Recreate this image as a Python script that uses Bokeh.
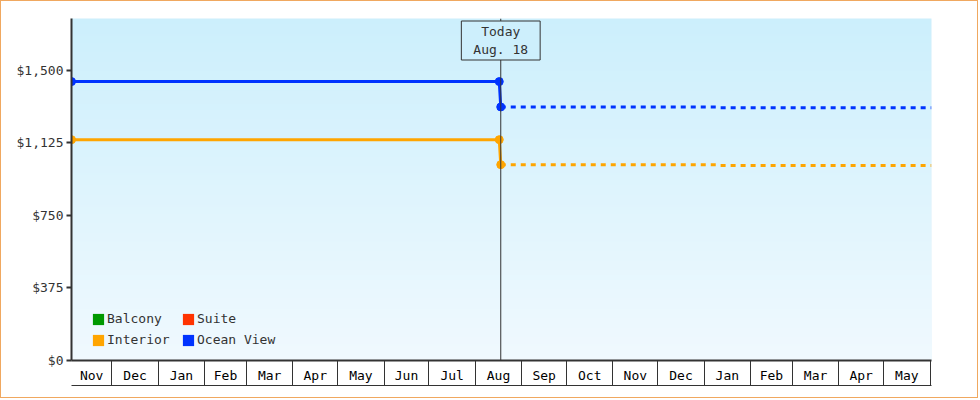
import numpy as np
import pandas as pd
from bokeh.plotting import figure
from bokeh.models import (FixedTicker, NumeralTickFormatter, LinearAxis, Span, Label,
                          Legend, LegendItem, Range1d, CustomJSTickFormatter)
from bokeh.embed import file_html
from bokeh.resources import INLINE

# ---------------- data ----------------
x_start = "2017-11-04"
x_end = "2019-06-02"
today = "2018-08-18"
today_text = "Today\nAug. 18"

hist_dates = ["2017-11-04", "2018-08-17", "2018-08-18"]
ocean_hist = [1441, 1441, 1310]
interior_hist = [1141, 1141, 1012]

fcst_dates = ["2018-08-18", "2019-01-09", "2019-01-11", "2019-06-02"]
ocean_fcst = [1310, 1310, 1306, 1306]
interior_fcst = [1012, 1012, 1007, 1007]

# legend order is column-major: col 1 = Balcony, Interior; col 2 = Suite, Ocean View
legend_names = ["Balcony", "Interior", "Suite", "Ocean View"]
legend_colors = ["#009900", "#ffa500", "#ff3300", "#0033ff"]

month_labels = ["Nov", "Dec", "Jan", "Feb", "Mar", "Apr", "May", "Jun", "Jul", "Aug",
                "Sep", "Oct", "Nov", "Dec", "Jan", "Feb", "Mar", "Apr", "May"]
month_bounds = pd.date_range("2017-12-01", "2019-06-01", freq="MS")
y_ticks = [0, 375, 750, 1125, 1500]
y_max = 1767

BLUE = "#0033ff"
ORANGE = "#ffa500"
INK = "#333333"
FONT = "DejaVu Sans Mono"
TOP_BG = (0xcc, 0xef, 0xfc)
BOT_BG = (0xf0, 0xf9, 0xfe)


def ms(d):
    return int(pd.Timestamp(d).value // 10**6)


x0, x1 = ms(x_start), ms(x_end)
bound_ms = [ms(b) for b in month_bounds]
cell_edges = [x0] + bound_ms
mid_ms = [(a + b) // 2 for a, b in zip(cell_edges[:-1], cell_edges[1:])]

p = figure(width=978, height=398, x_axis_type="datetime",
           x_range=Range1d(x0, x1), y_range=Range1d(0, y_max),
           output_backend="svg", toolbar_location=None,
           min_border_left=70, min_border_right=48, min_border_top=17, min_border_bottom=39,
           background_fill_color="#dff4fd", border_fill_color="white",
           styles={"border": "1px solid #f0a860"})
p.outline_line_color = None
p.xgrid.visible = False
p.ygrid.visible = False

# background gradient
N = 256
t = np.linspace(0, 1, N)[:, None]
img = np.empty((N, 1), dtype=np.uint32)
view = img.view(dtype=np.uint8).reshape((N, 1, 4))
for k in range(3):
    view[:, :, k] = np.round(BOT_BG[k] + (TOP_BG[k] - BOT_BG[k]) * t).astype(np.uint8)
view[:, :, 3] = 255
p.image_rgba(image=[img], x=x0, y=0, dw=x1 - x0, dh=y_max, level="image")

# x axis: labels centred in cells, dividers as minor ticks
xa = p.xaxis[0]
xa.ticker = FixedTicker(ticks=mid_ms, minor_ticks=bound_ms)
xa.formatter = CustomJSTickFormatter(args=dict(mids=mid_ms, labs=month_labels), code="""
let best = 0, bd = Infinity;
for (let i = 0; i < mids.length; i++) {
  const d = Math.abs(mids[i] - tick);
  if (d < bd) { bd = d; best = i; }
}
return labs[best];
""")
xa.axis_line_color = INK
xa.axis_line_width = 2
xa.major_tick_line_color = None
xa.major_tick_in = 0
xa.major_tick_out = 0
xa.minor_tick_line_color = INK
xa.minor_tick_line_width = 1
xa.minor_tick_in = 0
xa.minor_tick_out = 25
xa.major_label_standoff = -18
xa.major_label_text_font = FONT
xa.major_label_text_font_size = "13px"
xa.major_label_text_color = "black"

xb = LinearAxis(ticker=FixedTicker(ticks=[]), axis_line_color=INK, axis_line_width=1,
                major_tick_line_color=None, minor_tick_line_color=None,
                major_tick_in=0, major_tick_out=0, minor_tick_in=0, minor_tick_out=0,
                major_label_standoff=0, major_label_text_font_size="0px")
p.add_layout(xb, "below")

# y axis
ya = p.yaxis[0]
ya.ticker = FixedTicker(ticks=y_ticks)
ya.formatter = NumeralTickFormatter(format="$0,0")
ya.axis_line_color = INK
ya.axis_line_width = 2
ya.major_tick_line_color = INK
ya.major_tick_line_width = 2
ya.major_tick_in = 0
ya.major_tick_out = 5
ya.minor_tick_line_color = None
ya.major_label_standoff = 3
ya.major_label_text_font = FONT
ya.major_label_text_font_size = "13px"
ya.major_label_text_color = INK

# today marker
p.add_layout(Span(location=ms(today), dimension="height", line_color=INK, line_width=1))

# series
hist_x = [ms(d) for d in hist_dates]
fcst_x = [ms(d) for d in fcst_dates]
for ys_h, ys_f, c in [(interior_hist, interior_fcst, ORANGE), (ocean_hist, ocean_fcst, BLUE)]:
    p.line(fcst_x, ys_f, line_color=c, line_width=3, line_dash="5 5")
    p.line(hist_x, ys_h, line_color=c, line_width=3)
    p.scatter(hist_x, ys_h, marker="circle", size=8, fill_color=c, line_color=c)

p.add_layout(Label(x=ms(today), y=320, y_units="screen", text=today_text,
                   text_align="center", text_baseline="middle",
                   text_font=FONT, text_font_size="13px", text_color=INK,
                   background_fill_color="#cdeffc", border_line_color=INK,
                   border_line_width=1, padding=(12, 3)))

# legend (swatches only; no data drawn)
nan = float("nan")
items = []
for name, c in zip(legend_names, legend_colors):
    r = p.quad(left=[nan], right=[nan], top=[nan], bottom=[nan], fill_color=c, line_color=None)
    items.append(LegendItem(label=name, renderers=[r]))
legend = Legend(items=items, ncols=2, location=(20, 13), margin=0, padding=0,
                spacing=6, glyph_width=14, glyph_height=14, label_height=14,
                label_width=68, label_standoff=2,
                label_text_font=FONT, label_text_font_size="13px", label_text_color=INK,
                background_fill_alpha=0, border_line_color=None)
p.add_layout(legend, "center")

open("out.html", "w").write(file_html(p, INLINE))
